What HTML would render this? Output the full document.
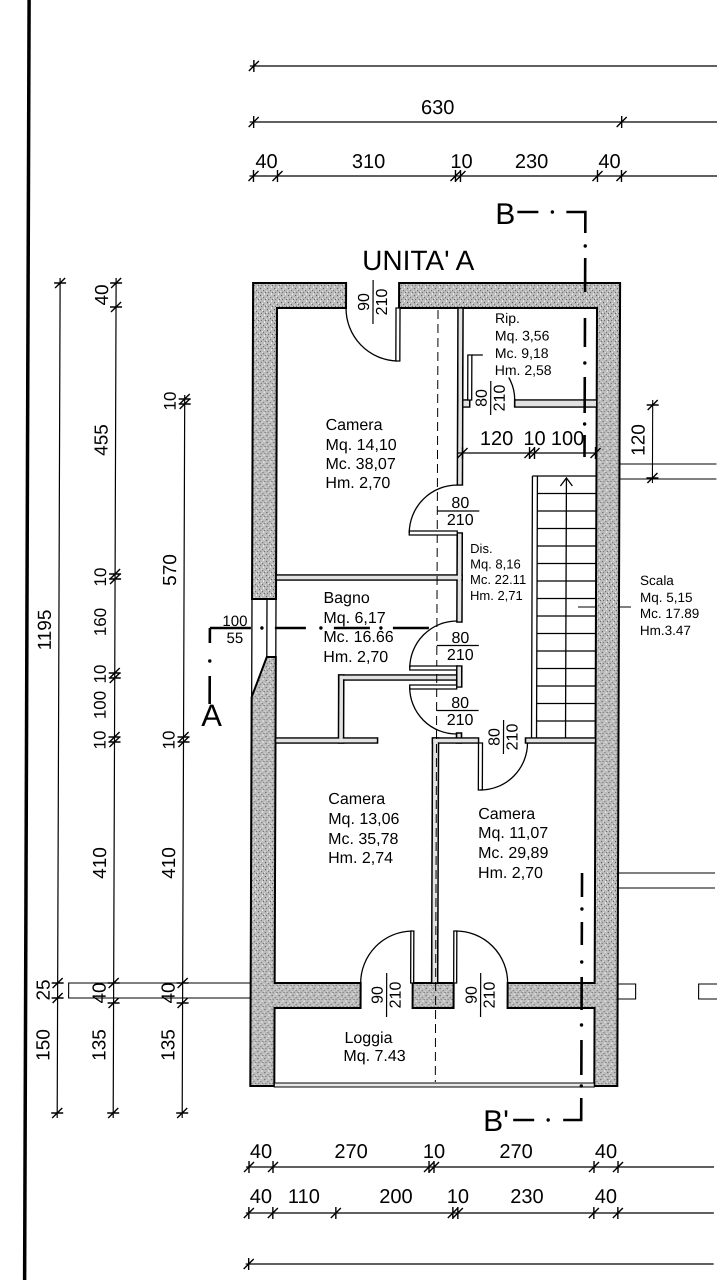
<!DOCTYPE html>
<html><head><meta charset="utf-8">
<style>
html,body{margin:0;padding:0;background:#fff;}
svg{display:block;}
text{font-family:"Liberation Sans",Arial,sans-serif;fill:#000;}
.d{font-size:20px;}
.v{font-size:19px;}
.r{font-size:16px;}
.f{font-size:16px;}
.s{font-size:13px;}
</style></head><body>
<svg width="717" height="1280" viewBox="0 0 717 1280" xmlns="http://www.w3.org/2000/svg">
<defs>
<pattern id="st" width="7" height="7" patternUnits="userSpaceOnUse">
<rect width="7" height="7" fill="#bcbcbc"/>
<rect x="1" y="1" width="1" height="1" fill="#444"/>
<rect x="4" y="3" width="1" height="1" fill="#555"/>
<rect x="2" y="5" width="1" height="1" fill="#666"/>
<rect x="5" y="0" width="1" height="1" fill="#f2f2f2"/>
<rect x="6" y="5" width="1" height="1" fill="#555"/>
<rect x="3" y="2" width="1" height="1" fill="#f4f4f4"/>
<rect x="0" y="4" width="1" height="1" fill="#eee"/>
<rect x="5" y="6" width="1" height="1" fill="#e8e8e8"/>
</pattern>
<path id="th" d="M-5 5L5-5M0-6V6" stroke="#000" stroke-width="1.4" fill="none"/>
<path id="tv" d="M-5 5L5-5M-6 0H6" stroke="#000" stroke-width="1.4" fill="none"/>
</defs>
<g transform="matrix(1 0 -0.0035 1 1.1 0)">

<!-- left border -->
<path d="M28 0V1280" stroke="#000" stroke-width="3.5"/>

<!-- top dimensions -->
<g stroke="#000" stroke-width="1.2" fill="none">
<path d="M249 66H717M249 122H717M249 176H717"/>
<path d="M249 1167H717M249 1213H717M249 1264H717"/>
</g>
<use href="#th" x="253" y="66"/>
<use href="#th" x="253" y="122"/><use href="#th" x="621" y="122"/>
<use href="#th" x="253" y="176"/><use href="#th" x="277" y="176"/><use href="#th" x="455" y="176"/><use href="#th" x="460" y="176"/><use href="#th" x="597" y="176"/><use href="#th" x="621" y="176"/>
<text class="d" x="437" y="114" text-anchor="middle">630</text>
<text class="d" x="266" y="168" text-anchor="middle">40</text>
<text class="d" x="368" y="168" text-anchor="middle">310</text>
<text class="d" x="461" y="168" text-anchor="middle">10</text>
<text class="d" x="531" y="168" text-anchor="middle">230</text>
<text class="d" x="609" y="168" text-anchor="middle">40</text>

<!-- bottom dimensions -->
<use href="#th" x="252" y="1167"/><use href="#th" x="276" y="1167"/><use href="#th" x="432" y="1167"/><use href="#th" x="437" y="1167"/><use href="#th" x="597" y="1167"/><use href="#th" x="621" y="1167"/>
<text class="d" x="264" y="1158" text-anchor="middle">40</text>
<text class="d" x="354" y="1158" text-anchor="middle">270</text>
<text class="d" x="437" y="1158" text-anchor="middle">10</text>
<text class="d" x="519" y="1158" text-anchor="middle">270</text>
<text class="d" x="609" y="1158" text-anchor="middle">40</text>
<use href="#th" x="252" y="1213"/><use href="#th" x="276" y="1213"/><use href="#th" x="339" y="1213"/><use href="#th" x="456" y="1213"/><use href="#th" x="461" y="1213"/><use href="#th" x="597" y="1213"/><use href="#th" x="621" y="1213"/>
<text class="d" x="264" y="1203" text-anchor="middle">40</text>
<text class="d" x="307" y="1203" text-anchor="middle">110</text>
<text class="d" x="399" y="1203" text-anchor="middle">200</text>
<text class="d" x="461" y="1203" text-anchor="middle">10</text>
<text class="d" x="530" y="1203" text-anchor="middle">230</text>
<text class="d" x="609" y="1203" text-anchor="middle">40</text>
<use href="#th" x="252" y="1264"/>

<!-- left dimensions -->
<g stroke="#000" stroke-width="1.2" fill="none">
<path d="M60 278V1118M116 278V1118M185 395V1118"/>
</g>
<use href="#tv" x="60" y="283"/><use href="#tv" x="60" y="983"/><use href="#tv" x="60" y="998"/><use href="#tv" x="60" y="1113"/>
<use href="#tv" x="116" y="283"/><use href="#tv" x="116" y="307"/><use href="#tv" x="116" y="574"/><use href="#tv" x="116" y="579"/><use href="#tv" x="116" y="673"/><use href="#tv" x="116" y="678"/><use href="#tv" x="116" y="737"/><use href="#tv" x="116" y="742"/><use href="#tv" x="116" y="983"/><use href="#tv" x="116" y="1003"/><use href="#tv" x="116" y="1113"/>
<use href="#tv" x="185" y="399"/><use href="#tv" x="185" y="404"/><use href="#tv" x="185" y="737"/><use href="#tv" x="185" y="742"/><use href="#tv" x="185" y="983"/><use href="#tv" x="185" y="1003"/><use href="#tv" x="185" y="1113"/>
<g class="v" text-anchor="middle">
<text transform="translate(60,630) rotate(-90)" y="-8">1195</text>
<text transform="translate(60,990) rotate(-90)" y="-8">25</text>
<text transform="translate(60,1045) rotate(-90)" y="-8">150</text>
<text transform="translate(116,295) rotate(-90)" y="-8">40</text>
<text transform="translate(116,440) rotate(-90)" y="-8">455</text>
<text transform="translate(116,863) rotate(-90)" y="-8">410</text>
<text transform="translate(116,993) rotate(-90)" y="-8">40</text>
<text transform="translate(116,1045) rotate(-90)" y="-8">135</text>
<text transform="translate(185,570) rotate(-90)" y="-8">570</text>
<text transform="translate(185,863) rotate(-90)" y="-8">410</text>
<text transform="translate(185,993) rotate(-90)" y="-8">40</text>
<text transform="translate(185,1045) rotate(-90)" y="-8">135</text>
</g>
<g style="font-size:17px" text-anchor="middle">
<text transform="translate(116,577) rotate(-90)" y="-9">10</text>
<text transform="translate(116,622) rotate(-90)" y="-9">160</text>
<text transform="translate(116,674) rotate(-90)" y="-9">10</text>
<text transform="translate(116,705) rotate(-90)" y="-9">100</text>
<text transform="translate(116,740) rotate(-90)" y="-9">10</text>
<text transform="translate(185,401) rotate(-90)" y="-9">10</text>
<text transform="translate(185,740) rotate(-90)" y="-9">10</text>
</g>

<!-- external features -->
<g stroke="#000" stroke-width="1.1" fill="none">
<rect x="71" y="983" width="182" height="15"/>
<path d="M620 464H717M620 479H717M620 873H717M620 888H717"/>
<rect x="620" y="984" width="18" height="15"/>
<rect x="701" y="984" width="20" height="15"/>
<path d="M653 400V483"/>
<path d="M579 607H632"/>
</g>
<use href="#tv" x="653" y="405"/><use href="#tv" x="653" y="478"/>
<text class="v" transform="translate(653,440) rotate(-90)" y="-8" text-anchor="middle">120</text>

<!-- outer walls -->
<g fill="url(#st)" stroke="#000" stroke-width="2">
<path d="M253 283H346V308H277V599H253Z"/>
<path d="M399 283H620V1086H597V1008H510V983H597V308H399Z"/>
<path d="M268 657H277V983H363V1008H277V1086H253V697Z"/>
<rect x="415" y="983" width="41" height="25"/>
</g>
<!-- window -->
<g stroke="#000" stroke-width="1.3" fill="none">
<path d="M253 599V697M268 599V657M277 599V657"/>
</g>
<!-- loggia bottom -->
<rect x="277" y="1083" width="320" height="4" fill="#e8e8e8" stroke="#000" stroke-width="1.1"/>

<!-- thin walls -->
<g fill="#e2e2e2" stroke="#000" stroke-width="1.6">
<rect x="458" y="308" width="5" height="177"/>
<rect x="458" y="533" width="5" height="89"/>
<rect x="277" y="575" width="186" height="5"/>
<rect x="458" y="666" width="5" height="21"/>
<rect x="340" y="675" width="118" height="5"/>
<rect x="340" y="675" width="5" height="68"/>
<rect x="277" y="738" width="102" height="5"/>
<rect x="458" y="733" width="5" height="10"/>
<rect x="434" y="738" width="46" height="5"/>
<rect x="434" y="738" width="6" height="245"/>
<rect x="527" y="738" width="70" height="5"/>
<rect x="515" y="400" width="82" height="7"/>
<rect x="463" y="400" width="7" height="7"/>
</g>
<g fill="#e2e2e2">
<rect x="458.8" y="309" width="3.4" height="175.2"/>
<rect x="458.8" y="533.8" width="3.4" height="87.4"/>
<rect x="278" y="575.8" width="184.2" height="3.4"/>
<rect x="458.8" y="666.8" width="3.4" height="19.4"/>
<rect x="340.8" y="675.8" width="116.4" height="3.4"/>
<rect x="340.8" y="675.8" width="3.4" height="66.4"/>
<rect x="278" y="738.8" width="100.2" height="3.4"/>
<rect x="434.8" y="738.8" width="44.4" height="3.4"/>
<rect x="434.8" y="738.8" width="4.4" height="243.4"/>
<rect x="528" y="738.8" width="68.2" height="3.4"/>
<rect x="516" y="400.8" width="80.2" height="5.4"/>
<rect x="463.8" y="400.8" width="5.4" height="5.4"/>
</g>

<!-- center dashed line -->
<path d="M438 310V1082" stroke="#000" stroke-width="1" stroke-dasharray="9 5" fill="none"/>

<!-- stairs -->
<g stroke="#000" stroke-width="1.3" fill="none">
<path d="M533 476V738M538 476V738M533 476H597M567 478V738M561 486L567 478L573 486"/>
<path d="M538 493.5H597M538 511H597M538 528.5H597M538 546H597M538 563.5H597M538 581H597M538 598.5H597M538 616H597M538 633.5H597M538 651H597M538 668.5H597M538 686H597M538 703.5H597M538 721H597"/>
</g>

<!-- doors -->
<g stroke="#000" stroke-width="1.3" fill="#fff">
<rect x="396" y="308" width="4" height="53"/>
<rect x="468" y="355" width="4" height="45"/>
<rect x="410" y="531" width="48" height="4"/>
<rect x="411" y="666" width="47" height="4"/>
<rect x="411" y="685" width="47" height="4"/>
<rect x="480" y="743" width="4" height="47"/>
<rect x="413" y="931" width="3" height="52"/>
<rect x="456" y="931" width="3" height="52"/>
</g>
<g stroke="#000" stroke-width="1.3" fill="none">
<path d="M346 308A53 53 0 0 0 397 361"/>
<path d="M472 355H483"/>
<path d="M509 377.5A45 45 0 0 1 515 400"/>
<path d="M410 533A48 48 0 0 1 458 485"/>
<path d="M458 621A47 47 0 0 0 411 668"/>
<path d="M411 687A47 47 0 0 0 458 734"/>
<path d="M482 790A47 47 0 0 0 529 743"/>
<path d="M414 931A52 52 0 0 0 363 983"/>
<path d="M458 931A52 52 0 0 1 510 983"/>
</g>

<!-- door labels -->
<g class="f" text-anchor="middle">
<g transform="translate(373,302) rotate(-90)"><text y="-4">90</text><text y="14">210</text><path d="M-22 0H22" stroke="#000" stroke-width="1.2"/></g>
<g transform="translate(491,398) rotate(-90)"><text y="-4">80</text><text y="14">210</text><path d="M-17 0H17" stroke="#000" stroke-width="1.2"/></g>
<g transform="translate(505,737) rotate(-90)"><text y="-4">80</text><text y="14">210</text><path d="M-17 0H17" stroke="#000" stroke-width="1.2"/></g>
<g transform="translate(389,995) rotate(-90)"><text y="-4">90</text><text y="14">210</text><path d="M-22 0H22" stroke="#000" stroke-width="1.2"/></g>
<g transform="translate(483,995) rotate(-90)"><text y="-4">90</text><text y="14">210</text><path d="M-22 0H22" stroke="#000" stroke-width="1.2"/></g>
<text x="461" y="508">80</text><text x="461" y="525">210</text>
<text x="461.5" y="643">80</text><text x="461.5" y="660">210</text>
<text x="461.5" y="708">80</text><text x="461.5" y="725">210</text>
</g>
<g stroke="#000" stroke-width="1.2" fill="none">
<path d="M438 511H480M438 645.5H480M438 710.5H480"/>
</g>
<g style="font-size:15px" text-anchor="middle">
<text x="236" y="626">100</text>
<text x="236" y="643">55</text>
</g>

<!-- inner dimension 120 10 100 -->
<path d="M458 453H597" stroke="#000" stroke-width="1.2"/>
<use href="#th" x="463" y="453"/><use href="#th" x="530" y="453"/><use href="#th" x="535" y="453"/><use href="#th" x="596" y="453"/>
<g class="d" text-anchor="middle">
<text x="497" y="445">120</text><text x="535" y="445">10</text><text x="568" y="445">100</text>
</g>

<!-- section lines -->
<g stroke="#000" stroke-width="2.6" fill="none">
<path d="M211 628H252M276 628H307M335 628H371M394 628H430"/>
<path d="M211 628V643M211 676V704"/>
<path d="M517 212H538M566 212H585V233M585 258V292M585 318V347M585 377V413M585 435V457"/>
<path d="M584 873V897M584 922V945M584 977V1010M584 1040V1075M584 1098V1120H566M537 1120H516"/>
</g>
<g fill="#000">
<circle cx="263" cy="628" r="1.7"/><circle cx="322" cy="628" r="1.7"/><circle cx="382" cy="628" r="1.7"/>
<circle cx="211" cy="661" r="1.7"/>
<circle cx="552" cy="212" r="1.7"/><circle cx="585" cy="246" r="1.7"/><circle cx="585" cy="363" r="1.7"/><circle cx="585" cy="424" r="1.7"/>
<circle cx="584" cy="909" r="1.7"/><circle cx="584" cy="962" r="1.7"/><circle cx="584" cy="1025" r="1.7"/><circle cx="584" cy="1086" r="1.7"/><circle cx="551" cy="1120" r="1.7"/>
</g>
<text x="213" y="726" text-anchor="middle" style="font-size:31px">A</text>
<text x="505" y="224" text-anchor="middle" style="font-size:30px">B</text>
<text x="486" y="1131" style="font-size:30px">B'</text>

<!-- titles and room labels -->
<text x="362" y="270" style="font-size:28px">UNITA' A</text>
<g class="r">
<text x="326" y="430">Camera</text><text x="326" y="450">Mq. 14,10</text><text x="326" y="469">Mc. 38,07</text><text x="326" y="488">Hm. 2,70</text>
<text x="324.5" y="603">Bagno</text><text x="324.5" y="623">Mq. 6,17</text><text x="324.5" y="642">Mc. 16.66</text><text x="324.5" y="662">Hm. 2,70</text>
<text x="330" y="804">Camera</text><text x="330" y="824">Mq. 13,06</text><text x="330" y="844">Mc. 35,78</text><text x="330" y="863">Hm. 2,74</text>
<text x="480" y="819">Camera</text><text x="480" y="838">Mq. 11,07</text><text x="480" y="858">Mc. 29,89</text><text x="480" y="878">Hm. 2,70</text>
<text x="347" y="1043">Loggia</text><text x="346" y="1061">Mq. 7.43</text>
</g>
<g style="font-size:14px">
<text x="495" y="323">Rip.</text><text x="495" y="340.5">Mq. 3,56</text><text x="495" y="358">Mc. 9,18</text><text x="495" y="375">Hm. 2,58</text>
</g>
<g class="s">
<text x="471" y="553">Dis.</text><text x="471" y="568.5">Mq. 8,16</text><text x="471" y="584">Mc. 22.11</text><text x="471" y="600">Hm. 2,71</text>
</g>
<g style="font-size:13.5px">
<text x="641" y="585">Scala</text><text x="641" y="602">Mq. 5,15</text><text x="641" y="618">Mc. 17.89</text><text x="641" y="635">Hm.3.47</text>
</g>

</g>
</svg>
</body></html>
